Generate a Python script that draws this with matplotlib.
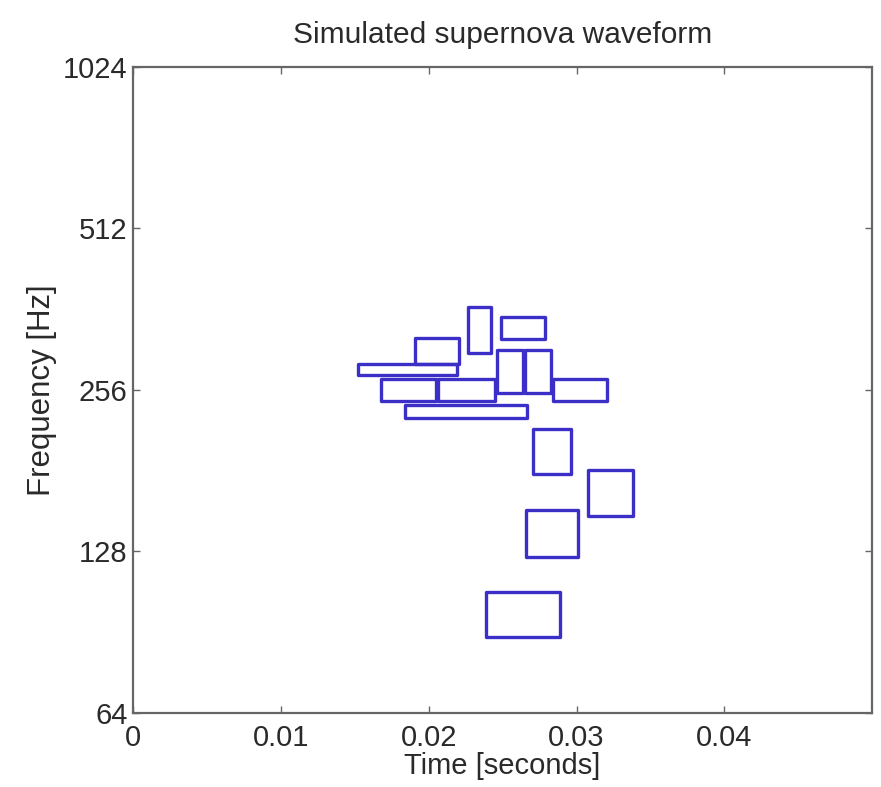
import matplotlib
matplotlib.use("Agg")
import matplotlib.pyplot as plt
from matplotlib.patches import Rectangle

plt.rcParams['font.family'] = ['Liberation Sans', 'DejaVu Sans']

# Tile boundaries: start time, end time (s), low freq, high freq (Hz)
t_start = [0.01522, 0.01908, 0.02267, 0.02490, 0.01678, 0.02064, 0.02463,
           0.02652, 0.02842, 0.01840, 0.02706, 0.03078, 0.02659, 0.02388]
t_end = [0.02192, 0.02206, 0.02422, 0.02788, 0.02050, 0.02449, 0.02639,
         0.02828, 0.03207, 0.02666, 0.02963, 0.03383, 0.03011, 0.02889]
f_low = [273.0, 286.2, 300.0, 318.6, 244.2, 244.2, 252.7,
         252.7, 244.2, 227.0, 178.5, 149.1, 125.0, 88.7]
f_high = [286.2, 320.0, 365.6, 350.2, 268.3, 268.3, 304.0,
          304.0, 268.3, 240.0, 216.6, 181.6, 152.9, 107.6]

y_ticks = [64, 128, 256, 512, 1024]
x_ticks = [0, 0.01, 0.02, 0.03, 0.04]
x_tick_labels = ['0', '0.01', '0.02', '0.03', '0.04']

fig = plt.figure(figsize=(8.81, 7.87), dpi=100)
ax = fig.add_axes([0.151, 0.094, 0.839, 0.821])

for t0, t1, f0, f1 in zip(t_start, t_end, f_low, f_high):
    ax.add_patch(Rectangle((t0, f0), t1 - t0, f1 - f0, fill=False,
                           edgecolor='#3b2fc8', linewidth=2.4, joinstyle='round'))

ax.set_yscale('log', base=2)
ax.set_xlim(0, 0.05)
ax.set_ylim(64, 1024)
ax.set_yticks(y_ticks)
ax.set_yticklabels([str(v) for v in y_ticks])
ax.minorticks_off()
ax.set_xticks(x_ticks)
ax.set_xticklabels(x_tick_labels)

frame_color = '#666666'
text_color = '#2a2a2a'
for s in ax.spines.values():
    s.set_color(frame_color)
    s.set_linewidth(1.6)
ax.tick_params(direction='in', length=5, width=1, colors=frame_color,
               labelcolor=text_color, labelsize=21, top=True, right=True)
ax.tick_params(axis='x', pad=8)
ax.tick_params(axis='y', pad=4)

ax.set_title('Simulated supernova waveform', fontsize=21.5, color=text_color, pad=17)
ax.set_xlabel('Time [seconds]', fontsize=21, color=text_color, labelpad=0)
ax.set_ylabel('Frequency [Hz]', fontsize=22.5, color=text_color, labelpad=4)

fig.savefig('out.png', dpi=100, facecolor='white')
